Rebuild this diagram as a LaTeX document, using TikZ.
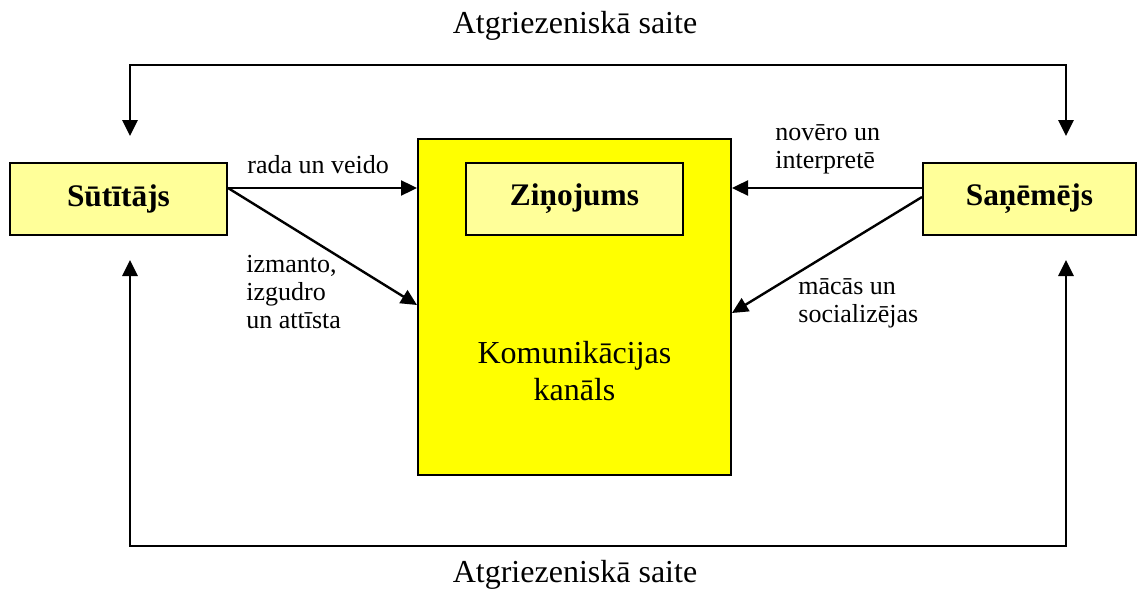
\documentclass[tikz,border=0pt]{standalone}
\usepackage{fontspec}
\setmainfont{Liberation Serif}
\usetikzlibrary{arrows.meta,calc}
\definecolor{lightyel}{HTML}{FFFF99}
\definecolor{brightyel}{HTML}{FFFF00}
\tikzset{
  box/.style={draw=black, line width=1pt, inner sep=0pt, font=\fontsize{15.7}{18}\selectfont\bfseries},
  lbox/.style={box, fill=lightyel, minimum width=108.5pt, minimum height=36pt},
  arr/.style={line width=1.2pt, -{Triangle[width=7.5pt,length=8pt]}},
  fbk/.style={line width=1.4pt, {Triangle[width=7.5pt,length=8pt]}-{Triangle[width=7.5pt,length=8pt]}},
  lbl/.style={anchor=base west, align=left, inner sep=0pt, font=\fontsize{13}{14}\selectfont},
  ttl/.style={anchor=base, inner sep=0pt, font=\fontsize{16}{18.5}\selectfont}
}
\begin{document}
\begin{tikzpicture}[x=0.5pt,y=-0.5pt]
\useasboundingbox (0,0) rectangle (1137,589);
\node[box, fill=brightyel, minimum width=156.5pt, minimum height=168pt] (chan) at (574.5,307) {};
\node[lbox] (msg) at (574.5,199) {Ziņojums};
\node[lbox] (snd) at (118.5,199) {Sūtītājs};
\node[lbox, minimum width=106.5pt] (rcv) at (1029.5,199) {Saņēmējs};
\node[ttl] (chtxt) at (574.5,363) {Komunikācijas};
\node[ttl] (chtxt2) at (574.5,400) {kanāls};

\draw[arr] ([yshift=5.5pt]snd.east) -- ([yshift=5.5pt]snd.east -| chan.west);
\draw[arr] ([yshift=5.5pt]snd.east) -- ([yshift=1pt]chan.west);
\draw[arr] ([yshift=5.5pt]rcv.west) -- ([yshift=5.5pt]rcv.west -| chan.east);
\draw[arr] ([yshift=1pt]rcv.west) -- ([yshift=-3pt]chan.east);

\coordinate (sndT) at ($(snd.north west)+(121,-26)$);
\coordinate (rcvT) at ($(rcv.north west)+(144,-26)$);
\coordinate (sndB) at ($(snd.south west)+(121,24)$);
\coordinate (rcvB) at ($(rcv.south west)+(144,24)$);
\draw[fbk] (sndT) -- ++(0,-71) -| (rcvT);
\draw[fbk] (sndB) -- ++(0,286) -| (rcvB);

\node[ttl] (fbtop) at (575,33) {Atgriezeniskā saite};
\node[ttl] (fbbot) at (575,582) {Atgriezeniskā saite};

\node[lbl] (l1) at (247,173) {rada un veido};
\node[lbl] (l2) at (246,328) {izmanto,\\izgudro\\un attīsta};
\node[lbl] (l3) at (775,168) {novēro un\\interpretē};
\node[lbl] (l4) at (798,322) {mācās un\\socializējas};
\end{tikzpicture}
\end{document}
